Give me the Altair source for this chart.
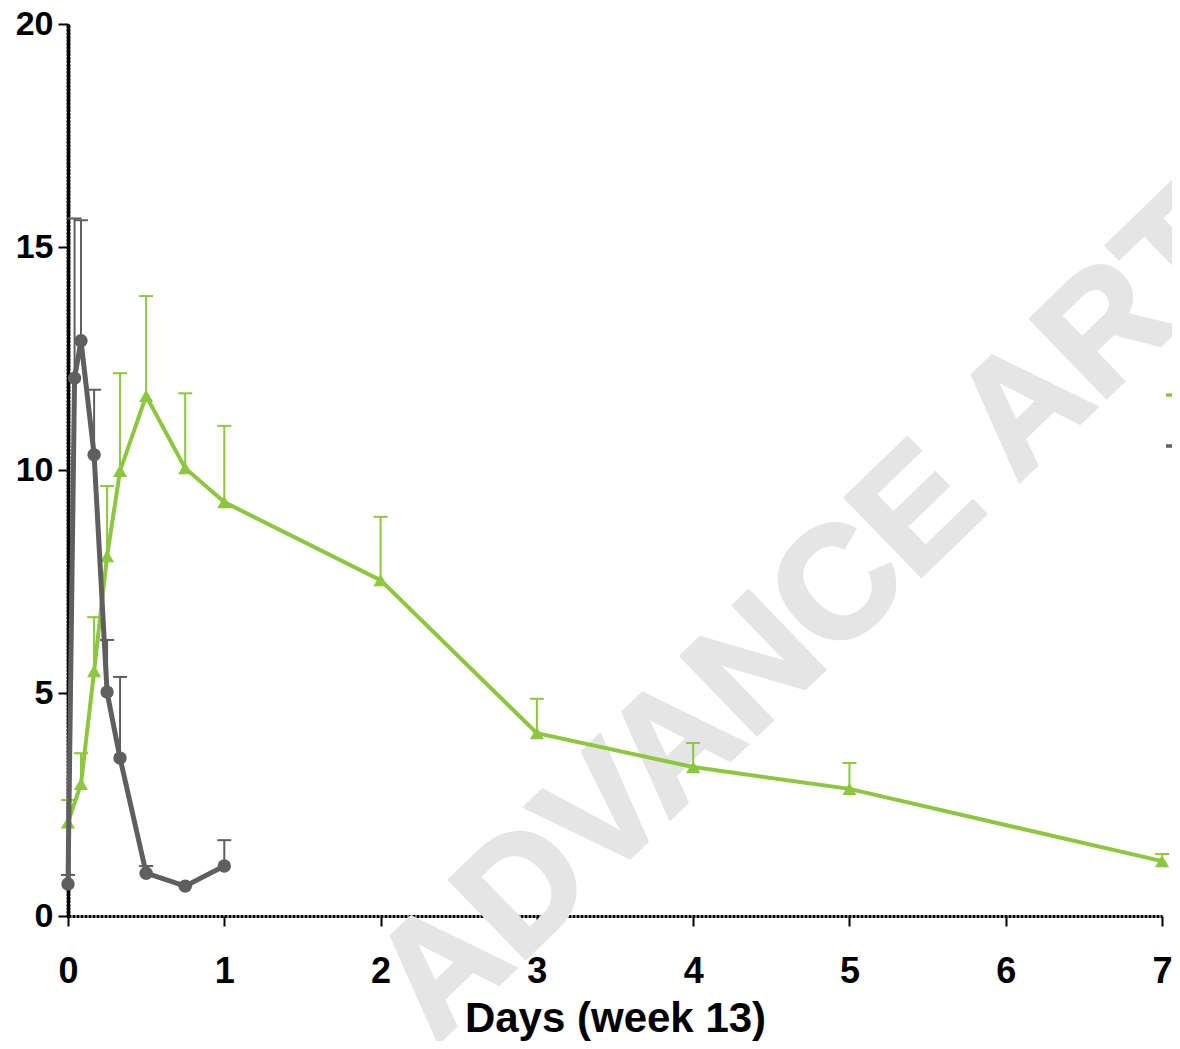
import altair as alt
import pandas as pd

# Series 1 (green triangles)
green_name = "Group 1"
green_x = [0, 0.083, 0.167, 0.25, 0.333, 0.5, 0.75, 1, 2, 3, 4, 5, 7]
green_y = [2.10, 2.96, 5.49, 8.07, 9.98, 11.66, 10.04, 9.28, 7.53, 4.10, 3.34, 2.85, 1.23]
green_top = [2.60, 3.65, 6.70, 9.64, 12.17, 13.90, 11.72, 10.99, 8.95, 4.87, 3.88, 3.43, 1.39]

# Series 2 (grey circles)
grey_name = "Group 2"
grey_x = [0, 0.042, 0.083, 0.167, 0.25, 0.333, 0.5, 0.75, 1]
grey_y = [0.72, 12.06, 12.90, 10.34, 5.02, 3.54, 0.96, 0.67, 1.12]
grey_top = [0.92, 15.64, 15.60, 11.80, 6.19, 5.36, 1.12, 0.67, 1.70]

x_ticks = [0, 1, 2, 3, 4, 5, 6, 7]
y_ticks = [0, 5, 10, 15, 20]
x_title = "Days (week 13)"
watermark = "ADVANCE ARTICLE"

GREEN = "#8dc63f"
GREY = "#5f5f5f"
FONT = "Liberation Sans"

green_df = pd.DataFrame({"day": green_x, "value": green_y, "top": green_top, "series": green_name})
grey_df = pd.DataFrame({"day": grey_x, "value": grey_y, "top": grey_top, "series": grey_name})
wm_df = pd.DataFrame({"day": [5.58], "value": [9.5], "label": [watermark]})

xscale = alt.Scale(domain=[0, 7], nice=False, zero=False)
yscale = alt.Scale(domain=[0, 20], nice=False)
color_scale = alt.Scale(domain=[green_name, grey_name], range=[GREEN, GREY])

x_enc = alt.X("day:Q", scale=xscale, axis=alt.Axis(
    values=x_ticks, title=x_title, grid=False, format="d",
    domainColor="black", domainWidth=3, domainDash=[3, 1],
    tickColor="black", tickWidth=2, tickSize=10,
    labelFont=FONT, labelFontSize=36, labelFontWeight="bold", labelColor="black",
    labelPadding=28, labelFlush=False,
    titleFont=FONT, titleFontSize=42, titleFontWeight="bold", titleColor="black",
    titleBaseline="alphabetic", titleY=115,
))
y_enc = alt.Y("value:Q", scale=yscale, axis=alt.Axis(
    values=y_ticks, title=None, grid=False,
    domainColor="black", domainWidth=4, domainDash=[1.5, 2], domainCap="round",
    tickColor="black", tickWidth=2, tickSize=10,
    labelFont=FONT, labelFontSize=34, labelFontWeight="bold", labelColor="black",
    labelPadding=5, labelFlush=False,
))

wm = alt.Chart(wm_df).mark_text(
    font=FONT, fontSize=158, fontWeight="bold", color="#e5e5e5",
    stroke="#e5e5e5", strokeWidth=4,
    angle=316, align="center", baseline="middle",
).encode(x=alt.X("day:Q", scale=xscale), y=alt.Y("value:Q", scale=yscale), text="label:N")


def series_layers(df, color, shape, size, lw):
    base = alt.Chart(df)
    err = base.mark_rule(color=color, strokeWidth=2).encode(
        x=alt.X("day:Q", scale=xscale), y=alt.Y("value:Q", scale=yscale), y2="top:Q")
    cap = base.mark_rule(color=color, strokeWidth=2, xOffset=-7, x2Offset=7).encode(
        x=alt.X("day:Q", scale=xscale), x2="day:Q", y=alt.Y("top:Q", scale=yscale))
    line = base.mark_line(strokeWidth=lw).encode(
        x=x_enc, y=y_enc,
        color=alt.Color("series:N", scale=color_scale, legend=alt.Legend(
            title=None, orient="none", legendX=1096, legendY=354,
            symbolType="stroke", symbolSize=900, symbolStrokeWidth=3.5,
            labelFontSize=34, labelFont=FONT, labelFontWeight="bold",
            rowPadding=17, padding=0, symbolOffset=0,
        )))
    pts = base.mark_point(shape=shape, filled=True, size=size, color=color, opacity=1).encode(
        x=alt.X("day:Q", scale=xscale), y=alt.Y("value:Q", scale=yscale))
    return [err, cap, line, pts]


layers = [wm] + series_layers(green_df, GREEN, "triangle-up", 200, 4) + \
    series_layers(grey_df, GREY, "circle", 180, 5)

chart = alt.layer(*layers).properties(
    width=1094, height=892,
    autosize=alt.AutoSizeParams(type="none"),
    padding={"left": 60, "top": 16, "right": 10, "bottom": 125},
).configure_view(stroke=None).configure_legend(labelColor="black")

chart.save("out.html", embed_options={"renderer": "svg", "actions": False})
